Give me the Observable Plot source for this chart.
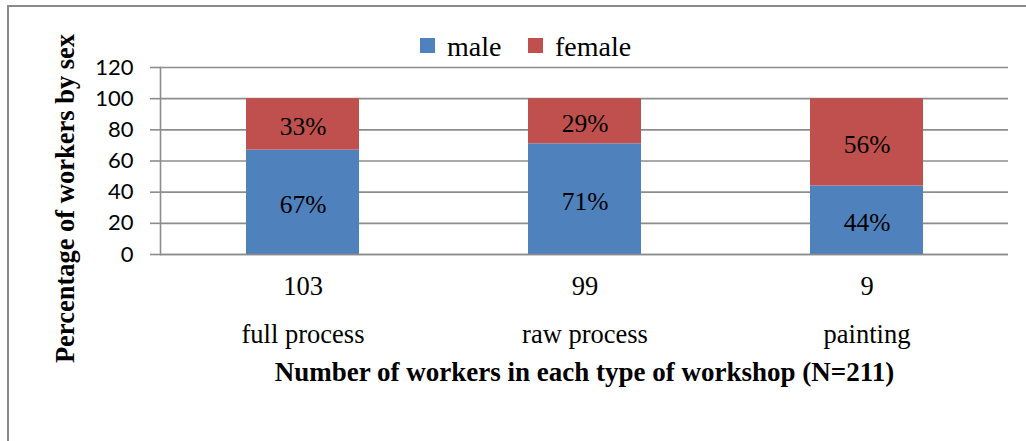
<!DOCTYPE html>
<html>
<head>
<meta charset="utf-8">
<script src="https://cdn.jsdelivr.net/npm/d3@7"></script>
<script src="https://cdn.jsdelivr.net/npm/@observablehq/plot@0.6"></script>
<style>
  html, body { margin: 0; padding: 0; background: #fff; }
  #wrap { position: relative; width: 1026px; height: 441px; overflow: hidden; background: #fff; }
  #border { position: absolute; left: 7px; top: 5px; width: 1100px; height: 600px; border: 2px solid #8a8a8a; pointer-events: none; box-sizing: border-box; }
  #legend { position: relative; height: 64px; font-family: "Liberation Serif", serif; font-size: 28px; color: #000; }
  #legend .sw { position: absolute; top: 38px; width: 15px; height: 15px; }
  #legend .lab { position: absolute; top: 33px; line-height: 1; white-space: nowrap; }
  #chart svg { display: block; }
</style>
</head>
<body>
<div id="wrap">
  <div id="legend"></div>
  <div id="chart"></div>
  <div id="border"></div>
</div>
<script>
// ---- data ----
const categories = ["full process", "raw process", "painting"];
const workerCounts = [103, 99, 9];
const sexes = ["male", "female"];
const malePct = [67, 71, 44];
const femalePct = [33, 29, 56];
const yTicks = [0, 20, 40, 60, 80, 100, 120];
const colors = ["#4F81BD", "#C0504D"];
const yTitle = "Percentage of workers by sex";
const xTitle = "Number of workers in each type of workshop (N=211)";

// build table
const rows = [];
categories.forEach((c, i) => {
  rows.push({cat: c, sex: "male", value: malePct[i]});
  rows.push({cat: c, sex: "female", value: femalePct[i]});
});
const countOf = new Map(categories.map((c, i) => [c, workerCounts[i]]));

// legend (HTML)
const legend = document.getElementById("legend");
const legendPos = [{sw: 420, lab: 447}, {sw: 528, lab: 555}];
sexes.forEach((s, i) => {
  const sw = document.createElement("div");
  sw.className = "sw";
  sw.style.left = legendPos[i].sw + "px";
  sw.style.background = colors[i];
  legend.appendChild(sw);
  const lab = document.createElement("span");
  lab.className = "lab";
  lab.style.left = legendPos[i].lab + "px";
  lab.textContent = s;
  legend.appendChild(lab);
});

const serif = "Liberation Serif, Times New Roman, serif";
const gridColor = "#8c8c8c";

const chart = Plot.plot({
  width: 1026,
  height: 377,
  marginLeft: 160,
  marginRight: 18,
  marginTop: 3,
  marginBottom: 187,
  style: {background: "transparent", color: "#000", overflow: "visible"},
  x: {domain: categories, paddingInner: 0.6, paddingOuter: 0.3, label: null},
  y: {domain: [0, 120], label: null},
  color: {domain: sexes, range: colors},
  marks: [
    Plot.gridY(yTicks, {stroke: gridColor, strokeOpacity: 1, strokeWidth: 1.6}),
    Plot.axisY(yTicks, {
      tickSize: 10, tickPadding: 17, stroke: gridColor, strokeWidth: 1.6,
      fontSize: 22, fontFamily: "Lato, sans-serif", label: null
    }),
    Plot.frame({anchor: "left", stroke: gridColor, strokeWidth: 1.6}),
    Plot.barY(rows, Plot.stackY({x: "cat", y: "value", fill: "sex", order: sexes})),
    Plot.text(rows, Plot.stackY({
      x: "cat", y: "value", z: "sex", order: sexes,
      text: d => d.value + "%", dy: 2.5,
      fontSize: 25.5, fontFamily: serif, fill: "#000"
    })),
    Plot.ruleY([0], {stroke: gridColor, strokeWidth: 1.6}),
    Plot.axisX({
      tickSize: 0, tickPadding: 6, lineHeight: 1.82,
      tickFormat: c => countOf.get(c) + "\n" + c,
      fontSize: 26.5, fontFamily: serif, label: null
    }),
    Plot.text([xTitle], {
      frameAnchor: "bottom", lineAnchor: "middle", dy: 118, text: d => d,
      fontSize: 27, fontWeight: "bold", fontFamily: serif, fill: "#000"
    }),
    Plot.text([yTitle], {
      frameAnchor: "left", textAnchor: "middle", lineAnchor: "middle",
      rotate: -90, dx: -95, dy: 37.5, text: d => d,
      fontSize: 26.5, fontWeight: "bold", fontFamily: serif, fill: "#000"
    })
  ]
});
document.getElementById("chart").appendChild(chart);
</script>
</body>
</html>
